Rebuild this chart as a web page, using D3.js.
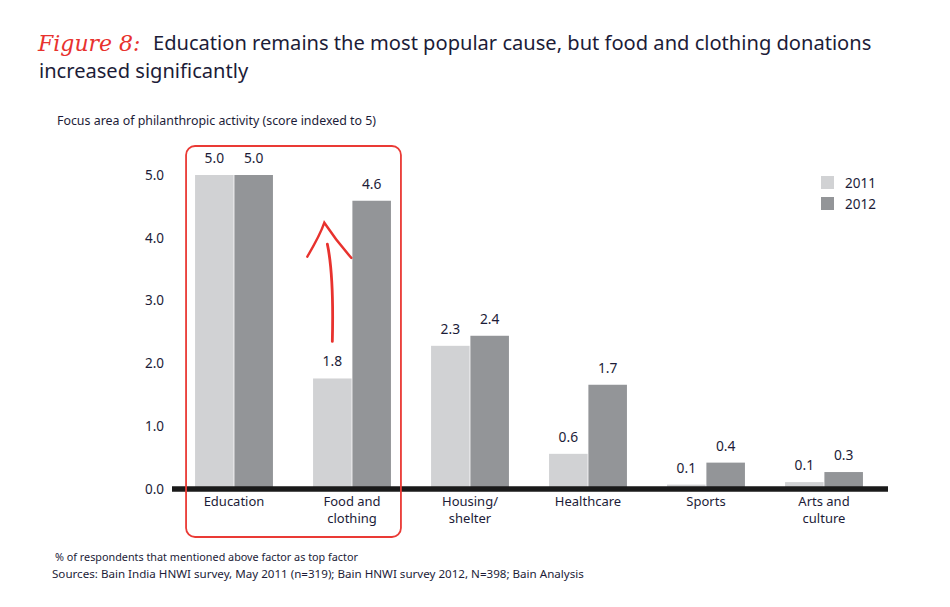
<!DOCTYPE html>
<html>
<head>
<meta charset="utf-8">
<script src="https://cdn.jsdelivr.net/npm/d3@7"></script>
<style>
  html, body { margin: 0; padding: 0; background: #fff; }
  svg { display: block; }
  text { font-family: "Noto Sans", "DejaVu Sans", sans-serif; fill: #1c1c38; }
</style>
</head>
<body>
<svg id="chart" width="950" height="607"></svg>
<script>
const categories = ["Education", "Food and clothing", "Housing/ shelter", "Healthcare", "Sports", "Arts and culture"];
const categoryLines = [["Education"], ["Food and", "clothing"], ["Housing/", "shelter"], ["Healthcare"], ["Sports"], ["Arts and", "culture"]];
const seriesNames = ["2011", "2012"];
const values2011 = [5.0, 1.76, 2.28, 0.56, 0.07, 0.11];
const values2012 = [5.0, 4.59, 2.44, 1.66, 0.42, 0.27];
const yTicks = [0, 1, 2, 3, 4, 5];
const colors = ["#d1d2d4", "#939598"];

const svg = d3.select("#chart");

// Title
const title = svg.append("g");
title.append("text").attr("x", 38).attr("y", 51)
  .style("font-family", "'DejaVu Serif', serif").style("font-style", "italic")
  .style("font-size", "22px").style("fill", "#e8322e")
  .text("Figure 8:");
title.append("text").attr("x", 153).attr("y", 50)
  .style("font-size", "20.1px")
  .text("Education remains the most popular cause, but food and clothing donations");
title.append("text").attr("x", 39).attr("y", 78)
  .style("font-size", "20.1px")
  .text("increased significantly");

svg.append("text").attr("x", 57).attr("y", 125)
  .style("font-size", "12.4px")
  .text("Focus area of philanthropic activity (score indexed to 5)");

// Scales
const x0 = d3.scaleBand().domain(categories).range([175, 883]).paddingInner(0.34).paddingOuter(0.17);
const x1 = d3.scaleBand().domain(seriesNames).range([0, x0.bandwidth()]).paddingInner(0.02);
const y = d3.scaleLinear().domain([0, 5]).range([489, 175]);

// Y axis labels
const yAxis = d3.axisLeft(y).tickValues(yTicks).tickFormat(d3.format(".1f")).tickSize(0).tickPadding(0);
const yg = svg.append("g").attr("transform", "translate(164,0)").call(yAxis);
yg.select(".domain").remove();
yg.selectAll("text").style("font-size", "13.5px").style("font-family", "'Noto Sans', sans-serif").attr("fill", "#1c1c38");

// Bars
const data = categories.map((c, i) => ({ cat: c, vals: [values2011[i], values2012[i]] }));
const groups = svg.append("g").selectAll("g").data(data).join("g")
  .attr("transform", d => `translate(${x0(d.cat)},0)`);
groups.selectAll("rect").data(d => d.vals.map((v, j) => ({ v, s: seriesNames[j], j })))
  .join("rect")
  .attr("x", d => x1(d.s))
  .attr("width", x1.bandwidth())
  .attr("y", d => y(d.v))
  .attr("height", d => y(0) - y(d.v))
  .attr("fill", d => colors[d.j]);
groups.selectAll("text.val").data(d => d.vals.map((v, j) => ({ v, s: seriesNames[j], j })))
  .join("text").attr("class", "val")
  .attr("x", d => x1(d.s) + x1.bandwidth() / 2)
  .attr("y", d => y(d.v) - 12)
  .attr("text-anchor", "middle")
  .style("font-size", "13.8px")
  .text(d => d3.format(".1f")(d.v));

// Baseline axis
svg.append("line").attr("x1", 172).attr("x2", 888).attr("y1", y(0)).attr("y2", y(0))
  .attr("stroke", "#1a1a1a").attr("stroke-width", 5.5);

// Category labels
const catG = svg.append("g").selectAll("text").data(categories).join("text")
  .attr("text-anchor", "middle")
  .attr("x", d => x0(d) + x0.bandwidth() / 2)
  .attr("y", 506)
  .style("font-size", "13px");
catG.each(function(d, i) {
  const t = d3.select(this);
  categoryLines[i].forEach((line, k) => {
    t.append("tspan").attr("x", x0(d) + x0.bandwidth() / 2).attr("dy", k === 0 ? 0 : 17).text(line);
  });
});

// Legend
const legend = svg.append("g");
seriesNames.forEach((s, i) => {
  legend.append("rect").attr("x", 821).attr("y", 176 + i * 21).attr("width", 13).attr("height", 13).attr("fill", colors[i]);
  legend.append("text").attr("x", 845).attr("y", 188 + i * 21).style("font-size", "13.5px").text(s);
});

// Highlight box
const boxL = x0(categories[0]) - 9, boxR = x0(categories[1]) + x0.bandwidth() + 10;
svg.append("rect").attr("x", boxL).attr("y", 146).attr("width", boxR - boxL).attr("height", 391)
  .attr("rx", 9).attr("ry", 9)
  .attr("fill", "none").attr("stroke", "#ea3a35").attr("stroke-width", 1.8);

// Arrow
const ax = x0(categories[1]) + x1("2011") + x1.bandwidth() / 2 - 6;
const arrow = svg.append("g").attr("fill", "none").attr("stroke", "#e8322e").attr("stroke-linecap", "round");
arrow.append("path").attr("d", `M${ax + 6},${y(2.35)} C${ax + 7},${y(3.0)} ${ax + 5},${y(3.6)} ${ax + 1},${y(3.9)}`)
  .attr("stroke-width", 2.8);
arrow.append("path").attr("d", `M${ax - 19},${y(3.7)} Q${ax - 6},${y(4.05)} ${ax - 2},${y(4.24)} Q${ax + 10},${y(3.95)} ${ax + 25},${y(3.68)}`)
  .attr("stroke-width", 2.4);

// Footnotes
svg.append("text").attr("x", 55).attr("y", 561).style("font-size", "10.8px")
  .text("% of respondents that mentioned above factor as top factor");
svg.append("text").attr("x", 52).attr("y", 578).style("font-size", "11.6px")
  .text("Sources: Bain India HNWI survey, May 2011 (n=319); Bain HNWI survey 2012, N=398; Bain Analysis");
</script>
</body>
</html>
